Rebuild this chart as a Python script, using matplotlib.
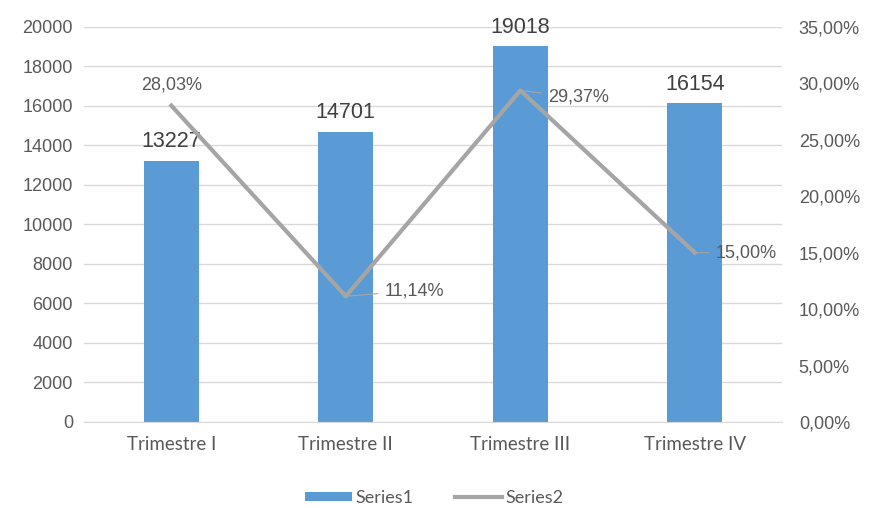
import matplotlib.pyplot as plt
import numpy as np
from matplotlib.ticker import FuncFormatter, MultipleLocator

categories = ['Trimestre I', 'Trimestre II', 'Trimestre III', 'Trimestre IV']
series1 = [13227, 14701, 19018, 16154]
series2 = [0.2803, 0.1114, 0.2937, 0.1500]

blue = '#5B9BD5'
grey = '#A5A5A5'
txt = '#595959'

plt.rcParams['font.family'] = ['Liberation Sans', 'DejaVu Sans']

fig = plt.figure(figsize=(8.69, 5.08), dpi=100)
ax = fig.add_axes([0.0967, 0.1693, 0.8033, 0.7777])
ax2 = ax.twinx()

x = np.arange(len(categories))
ax.bar(x, series1, width=0.315, color=blue, zorder=2, label='Series1')
ax.set_xlim(-0.5, 3.5)
ax.set_ylim(0, 20000)
ax.yaxis.set_major_locator(MultipleLocator(2000))
ax.grid(axis='y', color='#D9D9D9', lw=1, zorder=0)
ax.set_axisbelow(True)
for s in ['top', 'right', 'left']:
    ax.spines[s].set_visible(False)
ax.spines['bottom'].set_color('#D9D9D9')
ax.tick_params(length=0, labelsize=13, colors=txt, pad=8)
ax.set_xticks(x)
ax.set_xticklabels(categories, family=['Lato', 'DejaVu Sans'], fontsize=13.5)
ax.tick_params(axis='x', pad=10)

for xi, v in zip(x, series1):
    ax.annotate(str(v), (xi, v), xytext=(0, 6), textcoords='offset points',
                ha='center', va='bottom', fontsize=15.5, color='#404040')

ax2.plot(x, series2, color=grey, lw=3, zorder=3, label='Series2')
ax2.set_ylim(0, 0.35)
ax2.yaxis.set_major_locator(MultipleLocator(0.05))
ax2.yaxis.set_major_formatter(FuncFormatter(lambda v, p: f'{v*100:.2f}%'.replace('.', ',')))
for s in ['top', 'right', 'left', 'bottom']:
    ax2.spines[s].set_visible(False)
ax2.tick_params(length=0, labelsize=13, colors=txt, pad=12)

pct = [f'{v*100:.2f}%'.replace('.', ',') for v in series2]
# first label sits above the point, others to the right with a small leader
ax2.annotate(pct[0], (x[0], series2[0]), xytext=(0, 9), textcoords='offset points',
             ha='center', va='bottom', fontsize=13, color=txt)
offsets = {1: (28, 4), 2: (20, -5), 3: (15, 0)}
for i, off in offsets.items():
    ax2.annotate(pct[i], (x[i], series2[i]), xytext=off, textcoords='offset points',
                 ha='left', va='center', fontsize=13, color=txt,
                 arrowprops=dict(arrowstyle='-', color=grey, lw=0.8, shrinkA=3, shrinkB=0))

h1, l1 = ax.get_legend_handles_labels()
h2, l2 = ax2.get_legend_handles_labels()
fig.legend(h1 + h2, l1 + l2, loc='center', bbox_to_anchor=(0.5, 0.02), ncol=2,
           frameon=False, handlelength=2.6, handleheight=0.45, handletextpad=0.2,
           columnspacing=2.3,
           prop={'family': ['Lato', 'DejaVu Sans'], 'size': 13}, labelcolor=txt)

plt.savefig('out.png', dpi=100)
